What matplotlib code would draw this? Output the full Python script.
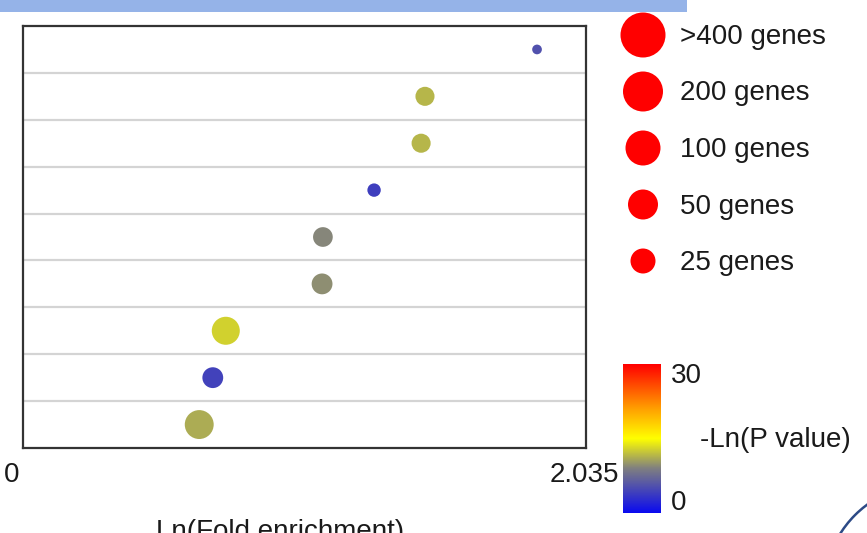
"""Bubble chart of enrichment terms: Ln(fold enrichment) vs rows, coloured by -Ln(P value)."""

import matplotlib

matplotlib.use("Agg")
import matplotlib.pyplot as plt
import numpy as np
from matplotlib.colors import LinearSegmentedColormap
from matplotlib.patches import Arc

# values (top row first)
ln_fold = [1.858, 1.453, 1.439, 1.269, 1.084, 1.081, 0.733, 0.686, 0.637]
gene_counts = [3, 11, 11, 5, 12, 14, 38, 14, 43]
neg_ln_p = [5.4, 11.6, 11.6, 4.0, 9.3, 9.7, 12.8, 4.3, 11.1]

legend_counts = [400, 200, 100, 50, 25]
legend_labels = [">400 genes", "200 genes", "100 genes", "50 genes", "25 genes"]

x_max = 2.035
p_min, p_max = 0, 30

W, H, DPI = 867, 533, 100
plt.rcParams["font.family"] = ["Liberation Sans", "DejaVu Sans"]

cmap = LinearSegmentedColormap.from_list(
    "pval",
    [(0.0, "#0a0af0"), (0.3, "#808080"), (0.5, "#ffff00"), (0.7, "#ffa000"), (1.0, "#ff0000")],
)


def marker_area(n):
    # bubble diameter in px grows by 5 px per doubling of the gene count
    dia_px = 25 + 5 * np.log2(np.asarray(n) / 25)
    return (dia_px * 72 / DPI) ** 2


fig = plt.figure(figsize=(W / DPI, H / DPI), dpi=DPI)


def px_axes(left, top, right, bottom):
    return fig.add_axes([left / W, 1 - bottom / H, (right - left) / W, (bottom - top) / H])


# overlay in pixel coordinates for the decorations and legend
over = px_axes(0, 0, W, H)
over.set_xlim(0, W)
over.set_ylim(H, 0)
over.axis("off")
over.add_patch(plt.Rectangle((0, 0), 687, 12, color="#95b3e8", lw=0))
over.add_patch(Arc((930, 590), 212, 212, theta1=195, theta2=255, color="#2c4a86", lw=1.8))

for i, (n, lab) in enumerate(zip(legend_counts, legend_labels)):
    y = 35 + i * 56.5
    over.scatter(643, y, s=marker_area(n), color="#ff0000", edgecolors="none")
    over.text(680, y + 2, lab, fontsize=20, va="center", ha="left", color="#1a1a1a")

# main bubble axes
ax = px_axes(23, 26, 586, 448)
rows = np.arange(len(ln_fold))[::-1] + 0.5
ax.scatter(
    ln_fold, rows, s=marker_area(gene_counts), c=neg_ln_p, cmap=cmap,
    vmin=p_min, vmax=p_max, edgecolors="none", zorder=3,
)
ax.set_xlim(0, x_max)
ax.set_ylim(0, len(ln_fold))
for k in range(1, len(ln_fold)):
    ax.axhline(k, color="#d4d4d4", lw=1.6, zorder=1)
ax.set_xticks([])
ax.set_yticks([])
for sp in ax.spines.values():
    sp.set_color("#333333")
    sp.set_linewidth(1.6)

over.text(12, 475, "0", fontsize=20, ha="center", va="center", color="#1a1a1a")
over.text(619, 475, f"{x_max:.3f}", fontsize=20, ha="right", va="center", color="#1a1a1a")
over.text(280, 519, "Ln(Fold enrichment)", fontsize=20, ha="center", va="top", color="#1a1a1a")

# colour bar
cax = px_axes(623, 364, 661, 513)
grad = np.linspace(p_min, p_max, 256).reshape(-1, 1)
cax.imshow(grad, aspect="auto", cmap=cmap, origin="lower", extent=[0, 1, p_min, p_max])
cax.axis("off")
over.text(671, 376, str(p_max), fontsize=20, ha="left", va="center", color="#1a1a1a")
over.text(671, 503, str(p_min), fontsize=20, ha="left", va="center", color="#1a1a1a")
over.text(700, 440, "-Ln(P value)", fontsize=20, ha="left", va="center", color="#1a1a1a")

fig.savefig("out.png", dpi=DPI)
